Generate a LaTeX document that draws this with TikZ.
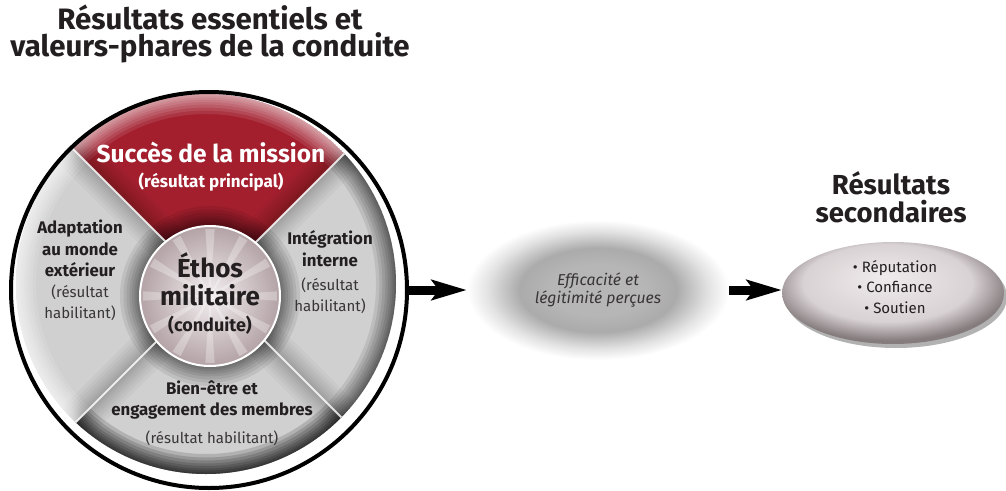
\documentclass[tikz,border=0pt]{standalone}
\usepackage{fontspec}
\setmainfont{Fira Sans}
\usetikzlibrary{arrows.meta,shapes.geometric,shadows,calc}

\definecolor{wine}{HTML}{A31F2E}
\definecolor{segray}{HTML}{D0D0D0}
\definecolor{hubin}{HTML}{F4F0F1}
\definecolor{hubout}{HTML}{B3A2A6}
\definecolor{inktext}{HTML}{231F20}
\definecolor{hzA}{HTML}{B6B6B6}
\definecolor{hzB}{HTML}{ABABAB}
\definecolor{hzC}{HTML}{E2E2E2}
\definecolor{pbA}{HTML}{EFEBEC}
\definecolor{pbB}{HTML}{D9D2D4}
\definecolor{pbC}{HTML}{857C7E}

% soft grey halo behind the perceived-effectiveness label
\pgfdeclareradialshading{haze}{\pgfpoint{0bp}{0bp}}{color(0bp)=(hzA); color(9bp)=(hzA); color(15bp)=(hzB); color(21bp)=(hzC); color(25bp)=(white); color(50bp)=(white)}
% pebble-like shading, lit from above
\pgfdeclareradialshading{pebble}{\pgfpoint{-2bp}{8bp}}{color(0bp)=(pbA); color(19bp)=(pbB); color(27bp)=(pbC); color(50bp)=(pbC)}

\begin{document}
\begin{tikzpicture}[x=1pt,y=-1pt,
  heading/.style={font=\fontsize{29.5}{27}\selectfont\bfseries, align=center, text=inktext, inner sep=0pt},
  seglabel/.style={font=\fontsize{16.8}{21.5}\selectfont\bfseries, text=inktext, align=center, inner sep=0pt},
  subl/.style={font=\fontsize{15}{21}\selectfont, text=inktext!90, align=center, inner sep=0pt},
  bigarrow/.style={line width=9pt, -{Stealth[length=35pt,width=20pt,inset=7pt]}},
]
\path[fill=white, use as bounding box] (0,0) rectangle (1006,490);

% heading
\node[heading] (titre) at (210,33.5) {Résultats essentiels et\\valeurs-phares de la conduite};

% reference points of the wheel
\coordinate (wc) at (206,284);
\coordinate (xc) at (211,287);
\coordinate (hc) at (210,296);

% the four segments, each with a soft inner shadow and a lit or shaded rim
\foreach \s/\e/\col/\rim/\op in {225/315/wine/white/0.10, 315/405/segray/black/0.09, 45/135/segray/black/0.15, 135/225/segray/white/0.12}{
  \begin{scope}
    \clip (wc) circle[radius=190pt];
    \clip (xc) -- +(\s:420) -- +(\e:420) -- cycle;
    \fill[\col] (wc) circle[radius=190pt];
    \foreach \w in {40,33,27,21,16,11,7,3}{
      \draw[black, opacity=0.03, line width=\w pt] (xc) -- +(\s:420) (xc) -- +(\e:420);
      \draw[black, opacity=0.08, line width=\w pt] (hc) circle[radius=70pt];
      \draw[\rim, opacity=\op, line width=\w pt] (wc) circle[radius=190pt];
    }
  \end{scope}
}

% separating seams
\begin{scope}
  \clip (wc) circle[radius=190pt];
  \foreach \a in {45,135,225,315}
    \draw[white, opacity=0.8, line width=2pt] (xc) -- +(\a:260);
\end{scope}

% hub
\node[circle, minimum size=140pt, inner sep=0pt, shade, inner color=hubin, outer color=hubout, draw=white, line width=2pt] (hub) at (hc) {};
\foreach \a in {0,30,...,330}
  \fill[white, opacity=0.3] (hc) -- +(\a-4:67) -- +(\a+4:67) -- cycle;

% outline of the wheel
\node[circle, draw=black, line width=4pt, minimum size=396pt, inner sep=0pt] (conduite) at (209,290) {};

% segment labels
\node[font=\fontsize{24.5}{26}\selectfont\bfseries, text=white, inner sep=0pt] (mission) at (211,152) {Succès de la mission};
\node[font=\fontsize{17}{19}\selectfont\bfseries, text=white, inner sep=0pt] (principal) at (211,182) {(résultat principal)};

\node[seglabel] (adapt) at (80,248.5) {Adaptation\\au monde\\extérieur};
\node[subl] (adaptsub) at (80,302.5) {(résultat\\habilitant)};

\node[seglabel] (integr) at (330,248.5) {Intégration\\interne};
\node[subl] (integrsub) at (330,295.5) {(résultat\\habilitant)};

\node[seglabel] (membres) at (212,400) {Bien-être et\\engagement des membres};
\node[subl] (membressub) at (212,438) {(résultat habilitant)};

\node[font=\fontsize{26}{28}\selectfont\bfseries, text=inktext, align=center, inner sep=0pt] (ethos) at (210,279) {Éthos\\militaire};
\node[font=\fontsize{18}{20}\selectfont\bfseries, text=inktext, inner sep=0pt] (conduitelbl) at (210,325) {(conduite)};

% perceived effectiveness
\node[ellipse, minimum width=262pt, minimum height=140pt, shade, shading=haze, font=\fontsize{15.8}{18.5}\selectfont\itshape, text=inktext!90, align=center] (percu) at (598,290) {Efficacité et\\légitimité perçues};

% secondary outcomes
\node[heading, font=\fontsize{27.5}{28}\selectfont\bfseries] (secondaires) at (891,197) {Résultats\\secondaires};
\node[ellipse, minimum width=222pt, minimum height=102pt, shade, shading=pebble, drop shadow={shadow xshift=3pt, shadow yshift=-4pt, opacity=0.3, fill=black}] (second) at (893,293) {};
\node[font=\fontsize{15}{20.5}\selectfont, text=inktext, align=center, inner sep=0pt] (puces) at (895,287) {• Réputation\\• Confiance\\• Soutien};

% flow arrows
\draw[bigarrow] (conduite.east) -- (percu.west);
\draw[bigarrow] (percu.east) -- (second.west |- percu.east);
\end{tikzpicture}
\end{document}
